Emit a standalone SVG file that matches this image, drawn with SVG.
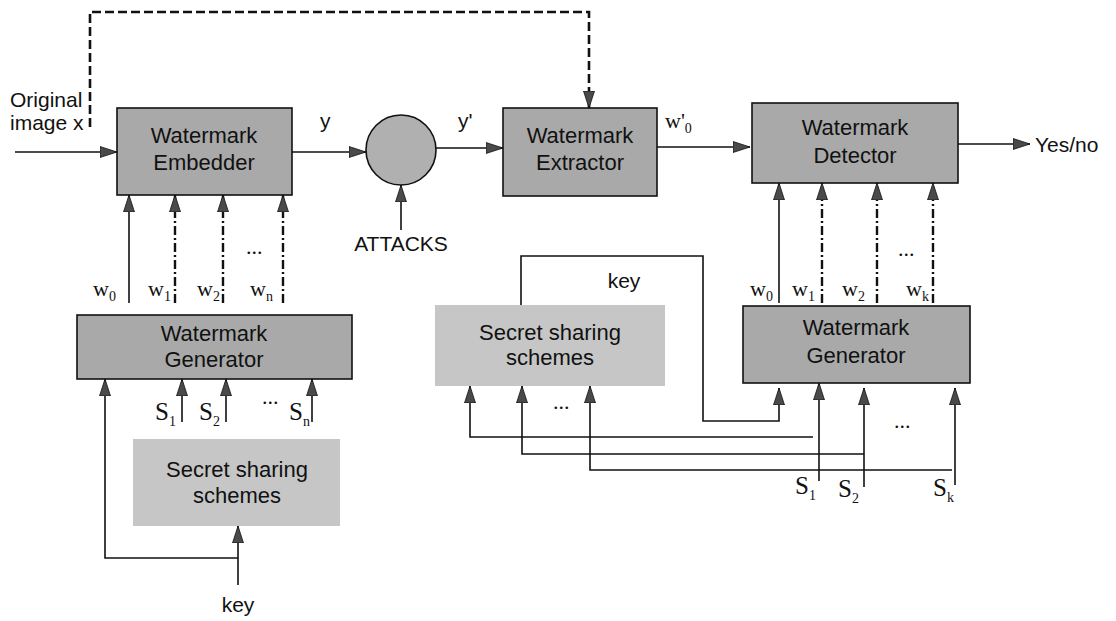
<svg xmlns="http://www.w3.org/2000/svg" width="1116" height="621" viewBox="0 0 1116 621">
  <style>
    .sans { font-family: "Liberation Sans", Arial, sans-serif; font-size: 21px; fill: #111; }
    .big { font-size: 22px; }
    .ctr { text-anchor: middle; }
    .serif { font-family: "Liberation Serif", "Times New Roman", serif; font-size: 22px; fill: #111; }
    .cap { font-size: 25px; }
    .sub { font-size: 14px; }
    .box { fill: #a9a9a9; stroke: #111; stroke-width: 1.6; }
    .soft { fill: #c6c6c6; stroke: none; }
    .ln { fill: none; stroke: #111; stroke-width: 1.6; }
    .dash { fill: none; stroke: #111; stroke-width: 2.6; stroke-dasharray: 9 4; }
    .dd { fill: none; stroke: #111; stroke-width: 2.4; stroke-dasharray: 9 3 2 3; }
    .arr { marker-end: url(#ah); }
  </style>
  <defs>
    <marker id="ah" viewBox="0 0 17 12" refX="17" refY="6" markerWidth="17" markerHeight="12" orient="auto" markerUnits="userSpaceOnUse">
      <path d="M0,0.5 L17,6 L0,11.5 z" fill="#4a4a4a" stroke="#111" stroke-width="0.8"/>
    </marker>
  </defs>
  <rect width="1116" height="621" fill="#fff"/>

  <!-- Nodes -->
  <g id="embedder">
    <rect class="box" x="117" y="108" width="175" height="87"/>
    <text class="sans big ctr" x="204" y="143">Watermark</text>
    <text class="sans big ctr" x="204" y="170">Embedder</text>
  </g>
  <g id="attack">
    <circle cx="401" cy="150" r="35" fill="#b0b0b0" stroke="#111" stroke-width="1.6"/>
  </g>
  <g id="extractor">
    <rect class="box" x="503" y="108" width="154" height="88"/>
    <text class="sans big ctr" x="580" y="143">Watermark</text>
    <text class="sans big ctr" x="580" y="170">Extractor</text>
  </g>
  <g id="detector">
    <rect class="box" x="752" y="103" width="206" height="80"/>
    <text class="sans big ctr" x="855" y="135">Watermark</text>
    <text class="sans big ctr" x="855" y="163">Detector</text>
  </g>
  <g id="generator-left">
    <rect class="box" x="77" y="315" width="275" height="64"/>
    <text class="sans big ctr" x="214" y="341">Watermark</text>
    <text class="sans big ctr" x="214" y="367">Generator</text>
  </g>
  <g id="secret-left">
    <rect class="soft" x="133" y="439" width="207" height="87"/>
    <text class="sans big ctr" x="237" y="477">Secret sharing</text>
    <text class="sans big ctr" x="237" y="503">schemes</text>
  </g>
  <g id="secret-right">
    <rect class="soft" x="435" y="305" width="230" height="81"/>
    <text class="sans big ctr" x="550" y="340">Secret sharing</text>
    <text class="sans big ctr" x="550" y="365">schemes</text>
  </g>
  <g id="generator-right">
    <rect class="box" x="743" y="306" width="227" height="77"/>
    <text class="sans big ctr" x="856" y="335">Watermark</text>
    <text class="sans big ctr" x="856" y="363">Generator</text>
  </g>

  <!-- Connectors -->
  <g id="connectors">
    <!-- original image path and its copy to the extractor -->
    <path class="ln arr" d="M15,152 H117"/>
    <path class="dash arr" d="M90,127 V12 H589 V108"/>
    <path class="ln arr" d="M292,152 H366"/>
    <path class="ln arr" d="M401,230 V185"/>
    <path class="ln arr" d="M436,148 H503"/>
    <path class="ln arr" d="M657,147 H750"/>
    <path class="ln arr" d="M958,144 H1030"/>

    <!-- watermarks into the embedder -->
    <path class="ln arr" d="M129,303 V195"/>
    <path class="dd arr" d="M175,303 V195"/>
    <path class="dd arr" d="M223,303 V195"/>
    <path class="dd arr" d="M283,303 V195"/>

    <!-- shares into the left generator -->
    <path class="ln arr" d="M182,422 V379"/>
    <path class="ln arr" d="M226,422 V379"/>
    <path class="ln arr" d="M312,422 V379"/>

    <!-- left key -->
    <path class="ln arr" d="M238,585 V526"/>
    <path class="ln arr" d="M238,558 H105 V379"/>

    <!-- watermarks into the detector -->
    <path class="ln arr" d="M779,303 V183"/>
    <path class="dd arr" d="M822,303 V183"/>
    <path class="dd arr" d="M877,303 V183"/>
    <path class="dd arr" d="M933,303 V183"/>

    <!-- right key -->
    <path class="ln arr" d="M521,305 V256 H703 V421 H779 V388"/>

    <!-- shares into the right generator -->
    <path class="ln arr" d="M819,481 V383"/>
    <path class="ln arr" d="M864,487 V388"/>
    <path class="ln arr" d="M955,485 V388"/>

    <!-- shares back to the secret sharing schemes -->
    <path class="ln arr" d="M813,437 H470 V386"/>
    <path class="ln arr" d="M864,454 H522 V386"/>
    <path class="ln arr" d="M952,470 H590 V386"/>
  </g>

  <!-- Labels -->
  <g id="labels">
    <text class="sans" x="10" y="107">Original</text>
    <text class="sans" x="10" y="130">image x</text>
    <text class="sans" x="320" y="128">y</text>
    <text class="sans" x="458" y="128">y'</text>
    <text class="serif" x="665" y="128">w'<tspan class="sub" dy="5">0</tspan></text>
    <text class="sans" x="1035" y="152">Yes/no</text>
    <text class="sans ctr" x="401" y="251">ATTACKS</text>
    <text class="sans ctr" x="624" y="288">key</text>
    <text class="sans ctr" x="238" y="612">key</text>

    <text class="serif" x="93" y="296">w<tspan class="sub" dy="5">0</tspan></text>
    <text class="serif" x="148" y="296">w<tspan class="sub" dy="5">1</tspan></text>
    <text class="serif" x="197" y="296">w<tspan class="sub" dy="5">2</tspan></text>
    <text class="serif" x="250" y="296">w<tspan class="sub" dy="5">n</tspan></text>
    <text class="serif" x="246" y="254">...</text>

    <text class="serif" x="750" y="296">w<tspan class="sub" dy="5">0</tspan></text>
    <text class="serif" x="792" y="296">w<tspan class="sub" dy="5">1</tspan></text>
    <text class="serif" x="842" y="296">w<tspan class="sub" dy="5">2</tspan></text>
    <text class="serif" x="906" y="296">w<tspan class="sub" dy="5">k</tspan></text>
    <text class="serif" x="898" y="256">...</text>

    <text class="serif cap" x="155" y="420">S<tspan class="sub" dy="6">1</tspan></text>
    <text class="serif cap" x="199" y="420">S<tspan class="sub" dy="6">2</tspan></text>
    <text class="serif cap" x="289" y="420">S<tspan class="sub" dy="6">n</tspan></text>
    <text class="serif" x="262" y="404">...</text>

    <text class="serif cap" x="795" y="494">S<tspan class="sub" dy="6">1</tspan></text>
    <text class="serif cap" x="838" y="497">S<tspan class="sub" dy="6">2</tspan></text>
    <text class="serif cap" x="933" y="496">S<tspan class="sub" dy="6">k</tspan></text>
    <text class="serif" x="553" y="409">...</text>
    <text class="serif" x="894" y="428">...</text>
  </g>
</svg>
